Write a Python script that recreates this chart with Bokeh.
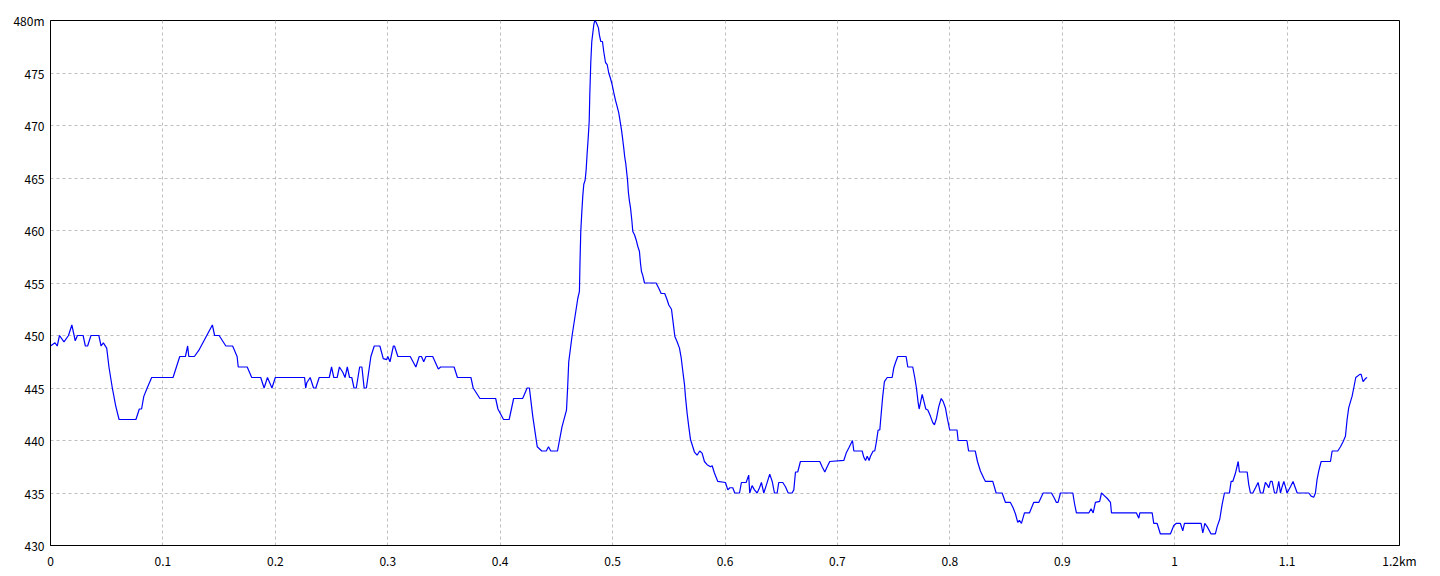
from bokeh.plotting import figure
from bokeh.models import FixedTicker
from bokeh.embed import file_html
from bokeh.resources import INLINE

# distance along route (m) and elevation (m)
dist_m = [
    0, 4, 6, 8, 12, 16, 19, 22, 24, 29, 31, 33, 36, 43, 45, 47, 50, 52, 55, 58,
    61, 76, 79, 81, 83, 86, 90, 109, 112, 115, 120, 122, 123, 128, 132, 139, 144, 146, 150, 156,
    162, 166, 167, 175, 179, 187, 190, 193, 197, 200, 222, 226, 227, 228, 231, 234, 236, 239, 248, 250,
    252, 255, 257, 260, 262, 264, 266, 268, 270, 272, 275, 277, 279, 281, 285, 288, 293, 296, 299, 300,
    302, 305, 306, 309, 320, 325, 328, 330, 332, 334, 340, 345, 347, 359, 362, 374, 376, 382, 396, 398,
    403, 408, 412, 420, 424, 426, 429, 433, 437, 441, 443, 445, 451, 455, 459, 460, 461, 464, 469, 470.5,
    471, 471.7, 472.6, 473.5, 474.4, 475.6, 476.5, 477.4, 478.3, 479.2, 479.7, 480.6, 481.5, 482.4, 483.3, 484.2, 485, 486.3, 487.4, 488.3,
    489.5, 491, 492.2, 493.7, 495.2, 496.6, 498.1, 499.6, 501.1, 502.6, 504.1, 505.5, 507, 507.9, 509.1, 510, 510.8, 511.7, 512.3, 513.3,
    514.1, 515, 515.9, 517.1, 518, 519.5, 521, 522.4, 523.9, 524.8, 525.7, 526.9, 528.4, 538.7, 541.1, 543.2, 546.4, 548.5, 550, 552.4,
    553.9, 555.4, 557.4, 559.5, 561, 562.7, 564, 564.8, 566.3, 567.8, 569.3, 570.8, 572.8, 575.2, 577.5, 579.6, 581.7, 584.1, 587.1, 588.6,
    590.6, 593.6, 600.4, 602.5, 604.3, 606.9, 608.7, 612.9, 614.6, 618.8, 621.1, 622, 624.1, 626.2, 628.6, 630.7, 632.4, 634.5, 636.9, 639.8,
    642, 644, 646.4, 647.8, 651.4, 653.8, 656.2, 659.7, 661.2, 662.7, 664.7, 667.1, 684.3, 686.4, 688.8, 690.9, 693.2, 705.7, 707.8, 710.2,
    713.4, 714.6, 722, 723.5, 725, 726.5, 728.2, 729.4, 731.8, 733.2, 734.7, 736.2, 737.7, 738.9, 740.3, 741.8, 744.3, 748.7, 750.1, 751.6,
    753.7, 761.1, 762.6, 767, 768.8, 770.3, 771.8, 772.7, 773.9, 775.4, 776.8, 778.6, 780.4, 782.8, 784.8, 786.3, 788.1, 790.1, 792.3, 794.1,
    796.1, 797.6, 799.9, 806.4, 807.4, 815.2, 816.7, 822.6, 824.6, 827.2, 830.2, 831.7, 838.2, 841.2, 846.5, 849.5, 853.9, 856.3, 858.4, 860.4,
    861.9, 863.7, 866.4, 870.8, 874.6, 879.1, 883, 890.4, 893, 894.8, 896.3, 898.4, 909.4, 910.9, 912.6, 923.6, 925.7, 927.5, 929.5, 933.3,
    934.9, 936.9, 939.9, 942.9, 943.8, 966, 968.1, 969, 980, 981.4, 984.4, 987.3, 996.2, 999.2, 1001.3, 1005.1, 1007.2, 1008.7, 1023.5, 1025,
    1025.9, 1026.8, 1028.9, 1032.4, 1036.2, 1037.8, 1040.1, 1042.2, 1044.3, 1048.7, 1050.2, 1051.7, 1054.1, 1056.5, 1057.6, 1064.5, 1065.9, 1067.4, 1069.5, 1071.9,
    1074.2, 1076.3, 1078.6, 1080.7, 1082.2, 1083.7, 1085.2, 1086.7, 1088.8, 1090.6, 1092.6, 1094.1, 1095.6, 1097.1, 1098.5, 1100, 1103, 1105.3, 1109, 1119.3,
    1121.4, 1123.7, 1125.2, 1126.7, 1128.2, 1130.3, 1138.6, 1140.1, 1145.1, 1147.5, 1149.9, 1151.9, 1153.4, 1154.8, 1156.4, 1157.8, 1159.3, 1161.1, 1164.7, 1165.9,
    1167.6, 1169.7, 1171.2,
]
elev_m = [
    449, 449.3, 449, 450, 449.4, 450, 451, 449.5, 450, 450, 449, 449, 450, 450, 449, 449.3, 448.8, 447, 445, 443.3,
    442, 442, 443, 443, 444.2, 445, 446, 446, 447, 448, 448, 449, 448, 448, 448.6, 450, 451, 450, 450, 449,
    449, 448, 447, 447, 446, 446, 445, 446, 445, 446, 446, 446, 445, 445.5, 446, 445, 445, 446, 446, 447,
    446, 446, 447, 446.5, 446, 447, 446, 446, 445, 445, 447, 447, 445, 445, 448, 449, 449, 447.8, 447.7, 448,
    447.5, 449, 449, 448, 448, 447, 448, 448, 447.5, 448, 448, 446.8, 447, 447, 446, 446, 445, 444, 444, 443,
    442, 442, 444, 444, 445, 445, 442.3, 439.4, 439, 439, 439.4, 439, 439, 441.3, 442.9, 445, 447.5, 450, 453.5, 454.2,
    456.9, 459.9, 461.7, 463.3, 464.4, 464.8, 465.8, 467.4, 468.8, 470.4, 472.8, 476, 478, 478.8, 479.6, 480, 479.9, 479.6, 479.3, 478.6,
    478, 478, 477, 476, 475.8, 475, 474.5, 473.9, 473.1, 472.4, 471.8, 471.2, 470.2, 469.6, 468.6, 467.8, 467, 466.4, 465.8, 464.8,
    463.6, 462.8, 462.2, 461, 459.9, 459.6, 459.1, 458.5, 458, 456.9, 456.1, 455.7, 455, 455, 454.5, 454, 454, 453.4, 452.9, 452.5,
    451.2, 449.9, 449.4, 448.8, 447.9, 446.4, 445.3, 444.2, 442.6, 441.3, 440.1, 439.6, 438.9, 438.6, 439, 438.8, 438, 437.7, 437.5, 437.6,
    436.9, 436.1, 436, 435.3, 435.5, 435.5, 435, 435, 436, 436, 436.7, 435, 435.7, 435.3, 435, 435.5, 436, 435, 435.8, 436.8,
    436.1, 435, 435, 436, 436, 435.6, 435, 435, 435.3, 437, 437, 438, 438, 437.5, 437, 437.5, 438, 438.1, 438.8, 439.3,
    440, 439, 439, 438.4, 438.1, 438.5, 438.1, 438.5, 439, 439, 439.9, 441, 441, 442.5, 444.2, 445.6, 446, 446, 446.9, 447.4,
    448, 448, 447, 447, 446, 445, 443.6, 443, 443.6, 444.4, 443.8, 443, 442.9, 442.3, 441.7, 441.5, 442.1, 443.2, 444, 443.7,
    443.1, 442.2, 441, 441, 440, 440, 439, 439, 438, 437.1, 436.4, 436.1, 436.1, 435, 435, 434.1, 434.1, 433.6, 433, 432.2,
    432.4, 432.1, 433.1, 433.1, 434.1, 434.1, 435, 435, 434.5, 434.1, 434.1, 435, 435, 434, 433.1, 433.1, 433.5, 433.1, 434.1, 434.2,
    435, 434.8, 434.5, 434.1, 433.1, 433.1, 432.6, 433.1, 433.1, 432.1, 432.1, 431.1, 431.1, 431.9, 432.1, 432.1, 431.4, 432.1, 432.1, 431.2,
    431.6, 432.1, 431.8, 431.1, 431.1, 431.8, 432.5, 433.9, 435, 435, 436.1, 436.1, 436.9, 438, 437, 437, 435.8, 435, 435, 435.5,
    436, 435, 435, 436, 435.8, 435.5, 436.1, 436.1, 435, 435, 436.1, 435, 435.6, 436.1, 435.6, 435, 435.6, 436.1, 435, 435,
    434.7, 434.6, 435, 436.3, 437.1, 438, 438, 439, 439, 439.4, 439.9, 440.4, 442, 443.1, 443.7, 444.2, 445, 446, 446.3, 446.3,
    445.6, 445.9, 446,
]

x_ticks = [0, 0.1, 0.2, 0.3, 0.4, 0.5, 0.6, 0.7, 0.8, 0.9, 1.0, 1.1, 1.2]
x_tick_labels = ["0", "0.1", "0.2", "0.3", "0.4", "0.5", "0.6", "0.7", "0.8", "0.9", "1", "1.1", "1.2km"]
y_ticks = [430, 435, 440, 445, 450, 455, 460, 465, 470, 475, 480]
y_tick_labels = ["430", "435", "440", "445", "450", "455", "460", "465", "470", "475", "480m"]

dist_km = [d / 1000.0 for d in dist_m]

p = figure(
    frame_width=1349, frame_height=525,
    x_range=(0, 1.2), y_range=(430, 480),
    output_backend="svg", toolbar_location=None,
    min_border_left=50, min_border_top=20, min_border_right=30, min_border_bottom=26,
    background_fill_color="white", border_fill_color="white",
)

p.line(dist_km, elev_m, line_color="#0000FF", line_width=1.2)

FONT = "Noto Sans CJK JP"
for ax, ticks, labels in ((p.xaxis[0], x_ticks, x_tick_labels), (p.yaxis[0], y_ticks, y_tick_labels)):
    ax.ticker = FixedTicker(ticks=ticks)
    ax.major_label_overrides = {t: l for t, l in zip(ticks, labels)}
    ax.major_tick_in = 0
    ax.major_tick_out = 0
    ax.minor_tick_in = 0
    ax.minor_tick_out = 0
    ax.axis_line_color = "black"
    ax.axis_line_width = 1
    ax.major_label_text_font = FONT
    ax.major_label_text_font_size = "12px"
    ax.major_label_text_color = "black"

p.xaxis.major_label_standoff = 6
p.yaxis.major_label_standoff = 6

p.outline_line_color = "black"
p.outline_line_width = 1
p.outline_line_alpha = 1

for g in (p.xgrid[0], p.ygrid[0]):
    g.grid_line_color = "#BEBEBE"
    g.grid_line_dash = "3 3"
    g.grid_line_width = 1

open("out.html", "w").write(file_html(p, INLINE))
